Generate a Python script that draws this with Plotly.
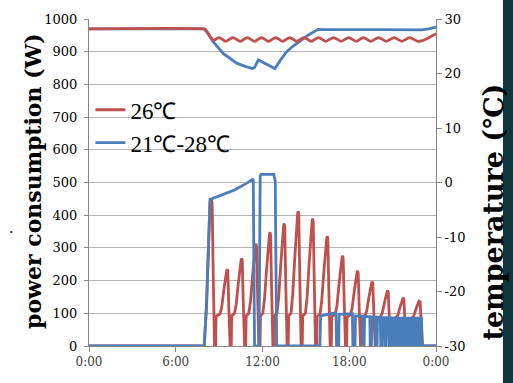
import plotly.graph_objects as go

# ---------------- data (hours of day, watts, deg C) ----------------
x_tick_vals = [0, 6, 12, 18, 24]
x_tick_text = ["0:00", "6:00", "12:00", "18:00", "0:00"]
y2_tick_vals = [-30, -20, -10, 0, 10, 20, 30]
y2_tick_text = ["-30", "-20", "-10", "0", "10", "20", "30"]

series_names = ["26℃", "21℃-28℃"]

red_power_h = [0, 7.97, 8.13, 8.37, 8.48,
               8.52, 8.59, 8.68, 8.76, 8.79, 9.06, 9.18, 9.32, 9.44, 9.52, 9.56,
               9.60, 9.67, 9.76, 9.84, 9.87, 10.06, 10.18, 10.32, 10.44, 10.52, 10.56,
               10.60, 10.67, 10.76, 10.84, 10.87, 11.05, 11.17, 11.31, 11.43, 11.51, 11.55,
               11.59, 11.66, 11.75, 11.83, 11.86, 12.02, 12.14, 12.28, 12.40, 12.48, 12.52,
               12.56, 12.63, 12.72, 12.80, 12.83, 13.00, 13.12, 13.26, 13.38, 13.46, 13.50,
               13.54, 13.61, 13.70, 13.78, 13.81, 13.97, 14.09, 14.23, 14.35, 14.43, 14.47,
               14.51, 14.58, 14.67, 14.75, 14.78, 14.97, 15.09, 15.23, 15.35, 15.43, 15.47,
               15.51, 15.58, 15.67, 15.75, 15.78, 15.98, 16.10, 16.24, 16.36, 16.44, 16.48,
               16.52, 16.59, 16.68, 16.76, 16.79, 17.04, 17.16, 17.30, 17.42, 17.50, 17.54,
               17.58, 17.65, 17.74, 17.82, 17.85, 18.08, 18.20, 18.34, 18.46, 18.54, 18.58,
               18.62, 18.69, 18.78, 18.86, 18.89, 19.09, 19.21, 19.35, 19.47, 19.55, 19.59,
               19.63, 19.70, 19.79, 19.87, 19.90, 20.16, 20.28, 20.42, 20.54, 20.62, 20.66,
               20.70, 20.77, 20.86, 20.94, 20.97, 21.24, 21.36, 21.50, 21.62, 21.70, 21.74,
               21.78, 21.85, 21.94, 22.02, 22.05, 22.33, 22.45, 22.59, 22.71, 22.79, 22.83,
               22.90, 22.98, 23.08, 24]
red_power_w = [0, 0, 125, 440, 447,
               434, 224, 0, 0, 90, 98, 119, 170, 216, 230, 235,
               228, 118, 0, 0, 92, 100, 127, 189, 245, 263, 268,
               260, 134, 0, 0, 92, 100, 136, 214, 284, 307, 313,
               304, 157, 0, 0, 92, 100, 143, 233, 315, 341, 348,
               338, 174, 0, 0, 92, 100, 149, 248, 338, 368, 375,
               364, 188, 0, 0, 92, 100, 156, 268, 370, 404, 412,
               400, 206, 0, 0, 92, 100, 152, 256, 351, 382, 390,
               378, 195, 0, 0, 90, 98, 139, 225, 304, 329, 336,
               326, 168, 0, 0, 90, 98, 127, 192, 252, 270, 276,
               268, 138, 0, 0, 88, 96, 116, 166, 212, 225, 230,
               223, 115, 0, 0, 85, 93, 107, 147, 182, 193, 197,
               191, 99, 0, 0, 82, 90, 100, 130, 159, 167, 170,
               165, 85, 0, 0, 80, 88, 93, 117, 138, 144, 147,
               143, 74, 0, 0, 78, 86, 90, 110, 129, 134, 137,
               135, 70, 0, 0]

blue_power_h = [0, 7.97, 8.13, 8.37, 9.2, 10.1, 10.8, 11.36, 11.45, 11.76, 11.84, 11.9, 12.78, 12.88, 12.98,
                15.97, 16.02, 16.6, 17.08, 17.12,
                17.27, 17.30, 18.22, 18.25,
                18.40, 18.43, 18.92, 18.95,
                19.03, 19.06, 19.42, 19.45,
                19.53, 19.56, 19.80, 19.83,
                19.93, 19.96, 20.15, 20.18,
                20.28, 20.31, 20.46, 20.49,
                20.55, 20.58, 20.74, 20.77,
                20.84, 20.87, 20.96, 20.99,
                21.04, 21.07, 21.16, 21.19,
                21.23, 21.26, 21.35, 21.38,
                21.42, 21.45, 21.54, 21.57,
                21.61, 21.64, 21.73, 21.76,
                21.80, 21.83, 21.92, 21.95,
                21.99, 22.02, 22.11, 22.14,
                22.18, 22.21, 22.30, 22.33,
                22.37, 22.40, 22.49, 22.52,
                22.56, 22.59, 22.68, 22.71,
                22.75, 22.78, 22.87, 22.90,
                22.92, 22.95, 23.00, 23.03,
                24]
blue_power_w = [0, 0, 129, 448, 462, 478, 495, 511, 0, 0, 520, 525, 525, 505, 0,
                0, 92, 97, 102, 0,
                0, 97, 99, 0,
                0, 92, 92, 0,
                0, 90, 90, 0,
                0, 88, 88, 0,
                0, 88, 88, 0,
                0, 87, 87, 0,
                0, 87, 87, 0,
                0, 86, 86, 0,
                0, 86, 86, 0,
                0, 86, 86, 0,
                0, 85, 85, 0,
                0, 85, 85, 0,
                0, 85, 85, 0,
                0, 85, 85, 0,
                0, 85, 85, 0,
                0, 85, 85, 0,
                0, 85, 85, 0,
                0, 85, 85, 0,
                0, 85, 85, 0,
                0]

red_temp_h = [0, 7.9, 8.05, 8.35, 8.6, 9.0, 9.46, 9.96, 10.46, 10.95, 11.45, 11.93, 12.42,
              12.91, 13.40, 13.88, 14.37, 14.87, 15.37, 15.87, 16.38, 16.91, 17.44,
              17.96, 18.48, 18.98, 19.49, 20.02, 20.56, 21.1, 21.64, 22.18, 22.73,
              23.0, 23.3, 23.65, 24]
red_temp_c = [28.2, 28.2, 28.1, 26.9, 26.1, 26.6, 25.9, 26.6, 25.9, 26.6, 25.9, 26.6, 25.9,
              26.6, 25.9, 26.6, 25.9, 26.6, 25.9, 26.6, 25.9, 26.6, 25.9,
              26.6, 25.9, 26.6, 25.9, 26.6, 25.9, 26.6, 25.9, 26.6, 25.9,
              26.0, 26.3, 26.8, 27.3]

blue_temp_h = [0, 7.98, 8.2, 8.6, 9.28, 10.21, 10.8, 11.32, 11.45, 11.71, 11.85, 12.4, 12.86,
               13.25, 13.67, 14.1, 14.59, 15.2, 15.86, 16.3, 20.0, 23.0, 23.5, 24]
blue_temp_c = [28.2, 28.2, 27.4, 25.8, 23.7, 21.9, 21.3, 20.9, 21.1, 22.5, 22.3, 21.5, 20.9,
               22.5, 24.0, 25.0, 25.9, 27.1, 28.1, 28.05, 28.05, 28.0, 28.2, 28.5]

# ---------------- styling ----------------
RED = "#c0504d"
BLUE = "#4a7ebb"
AXIS = "#868686"
GRID = "#b4b4b4"
SERIF = "DejaVu Serif, Liberation Serif, serif"
LEGEND_FONT = "Liberation Serif"

fig = go.Figure()
fig.add_trace(go.Scatter(x=red_power_h, y=red_power_w, mode="lines", name=series_names[0],
                         line=dict(color=RED, width=2.8), legendrank=1))
fig.add_trace(go.Scatter(x=blue_power_h, y=blue_power_w, mode="lines", name=series_names[1],
                         line=dict(color=BLUE, width=2.8), legendrank=2))
fig.add_trace(go.Scatter(x=blue_temp_h, y=blue_temp_c, mode="lines", yaxis="y2", showlegend=False,
                         line=dict(color=BLUE, width=2.8)))
fig.add_trace(go.Scatter(x=red_temp_h, y=red_temp_c, mode="lines", yaxis="y2", showlegend=False,
                         line=dict(color=RED, width=2.8, shape="spline", smoothing=0.8)))

fig.update_layout(
    width=513, height=383,
    margin=dict(l=89, r=77, t=17, b=37),
    paper_bgcolor="white", plot_bgcolor="white",
    xaxis=dict(range=[0, 24], tickvals=x_tick_vals, ticktext=x_tick_text,
               ticks="outside", ticklen=5, tickcolor=AXIS, showline=True, linecolor=AXIS,
               showgrid=False, zeroline=False,
               tickfont=dict(family=SERIF, size=12, color="#404040")),
    yaxis=dict(range=[0, 1000], dtick=100, ticks="outside", ticklen=4, tickcolor=AXIS,
               showline=True, linecolor=AXIS, showgrid=True, gridcolor=GRID, zeroline=False,
               tickfont=dict(family=SERIF, size=13, color="black"), ticklabelstandoff=4),
    yaxis2=dict(range=[-30, 30], overlaying="y", side="right", tickvals=y2_tick_vals,
                ticktext=y2_tick_text, ticks="outside", ticklen=5, tickcolor=AXIS,
                showline=True, linecolor=AXIS, showgrid=False, zeroline=False,
                tickfont=dict(family=SERIF, size=13, color="black")),
    legend=dict(x=0.004, y=0.788, xanchor="left", yanchor="top", bgcolor="rgba(0,0,0,0)",
                font=dict(family=LEGEND_FONT, size=23, color="black"), itemwidth=30),
    showlegend=True,
)

fig.add_annotation(text="<b>power consumption (W)</b>", xref="paper", yref="paper",
                   x=-0.161, y=0.505, textangle=-90, showarrow=False,
                   xanchor="center", yanchor="middle",
                   font=dict(family=SERIF, size=22, color="black"))
fig.add_annotation(text="<b>temperature (℃)</b>", xref="paper", yref="paper",
                   x=1.166, y=0.41, textangle=-90, showarrow=False,
                   xanchor="center", yanchor="middle",
                   font=dict(family=SERIF, size=27, color="black"))
fig.add_annotation(text=".", xref="paper", yref="paper", x=-0.225, y=0.36, showarrow=False,
                   xanchor="center", yanchor="middle", font=dict(family=SERIF, size=14, color="black"))

fig.add_shape(type="rect", xref="paper", yref="paper", x0=1.193, x1=1.35, y0=-0.3, y1=1.3,
              fillcolor="#10353b", line=dict(width=0), layer="below")

fig.write_html("out.html", config={"displayModeBar": False},
               post_script="document.body.style.margin='0';")
